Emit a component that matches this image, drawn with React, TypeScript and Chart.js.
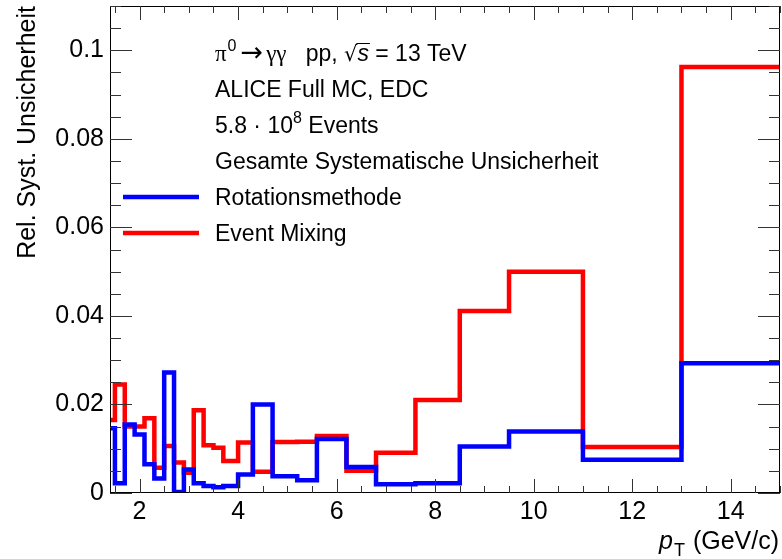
import { useEffect, useRef } from "react";
import { Chart, registerables } from "chart.js";

Chart.register(...registerables);

// pT bin edges (GeV/c)
const BIN_EDGES = [
  1.4, 1.5, 1.7, 1.9, 2.1, 2.3, 2.5, 2.7, 2.9, 3.1, 3.3, 3.5, 3.7, 4.0, 4.3, 4.7,
  5.2, 5.6, 6.2, 6.8, 7.6, 8.5, 9.5, 11, 13, 15,
];

// Rel. syst. uncertainty per bin
const ROTATION = [
  0.0146, 0.0022, 0.0155, 0.0132, 0.0065, 0.0033, 0.0272, 0.0002, 0.0053, 0.0022,
  0.0016, 0.0013, 0.0016, 0.0042, 0.02, 0.0038, 0.0029, 0.0122, 0.0059, 0.002,
  0.0022, 0.0105, 0.0139, 0.0075, 0.0293,
];
const EVENT_MIXING = [
  0.0165, 0.0245, 0.015, 0.015, 0.0169, 0.0057, 0.0106, 0.0069, 0.0046, 0.0187,
  0.0108, 0.0102, 0.0072, 0.0114, 0.0048, 0.0115, 0.0116, 0.0129, 0.005, 0.0091,
  0.021, 0.0411, 0.05, 0.0104, 0.0962,
];

const X_TICKS = [2, 4, 6, 8, 10, 12, 14];
const X_TICK_LABELS = ["2", "4", "6", "8", "10", "12", "14"];
const Y_TICKS = [0, 0.02, 0.04, 0.06, 0.08, 0.1];
const Y_TICK_LABELS = ["0", "0.02", "0.04", "0.06", "0.08", "0.1"];

const X_MIN = 1.4;
const X_MAX = 15;
const Y_MIN = 0;
const Y_MAX = 0.11;
const X_MINOR_STEP = 0.5;
const Y_MINOR_STEP = 0.005;

const SANS = "'Liberation Sans', Arial, Helvetica, sans-serif";
const SERIF = "'Liberation Serif', 'Times New Roman', serif";
const DEJAVU = "'DejaVu Sans', sans-serif";

function toSteps(values: number[]) {
  const pts = values.map((v, i) => ({ x: BIN_EDGES[i], y: v }));
  pts.push({ x: BIN_EDGES[BIN_EDGES.length - 1], y: values[values.length - 1] });
  return pts;
}

type Piece = { t: string; font: string; dy?: number; overline?: boolean; gap?: number };

function drawPieces(ctx: CanvasRenderingContext2D, x: number, y: number, pieces: Piece[]) {
  let cx = x;
  for (const p of pieces) {
    ctx.font = p.font;
    ctx.fillText(p.t, cx, y + (p.dy || 0));
    const w = ctx.measureText(p.t).width;
    if (p.overline) {
      ctx.save();
      ctx.lineWidth = 1;
      ctx.beginPath();
      ctx.moveTo(cx - 1, y - 17.5);
      ctx.lineTo(cx + w + 1, y - 17.5);
      ctx.stroke();
      ctx.restore();
    }
    cx += w + (p.gap || 0);
  }
}

const rootStyle = {
  id: "rootStyle",
  afterDatasetsDraw(chart: any) {
    const { ctx, chartArea: a } = chart;
    const xs = chart.scales.x;
    const ys = chart.scales.y;
    ctx.save();
    // frame
    ctx.strokeStyle = "#000";
    ctx.lineWidth = 1;
    ctx.strokeRect(a.left + 0.5, a.top + 0.5, a.right - a.left - 1, a.bottom - a.top - 1);

    // y ticks (inside, both sides)
    ctx.strokeStyle = "#333";
    const ny = Math.round((Y_MAX - Y_MIN) / Y_MINOR_STEP);
    for (let k = 0; k <= ny; k++) {
      const v = Y_MIN + k * Y_MINOR_STEP;
      const py = Math.round(ys.getPixelForValue(v)) + 0.5;
      const major = k % 4 === 0;
      const len = major ? 22 : 11;
      ctx.beginPath();
      ctx.moveTo(a.left, py);
      ctx.lineTo(a.left + len, py);
      ctx.moveTo(a.right, py);
      ctx.lineTo(a.right - len, py);
      ctx.stroke();
    }
    // x ticks (inside, bottom and top)
    const nx = Math.round((X_MAX - 1.5) / X_MINOR_STEP);
    for (let k = 0; k <= nx; k++) {
      const v = 1.5 + k * X_MINOR_STEP;
      const px = Math.round(xs.getPixelForValue(v)) + 0.5;
      const major = Math.abs(v / 2 - Math.round(v / 2)) < 1e-6;
      const len = major ? 14 : 7;
      ctx.beginPath();
      ctx.moveTo(px, a.bottom);
      ctx.lineTo(px, a.bottom - len);
      ctx.moveTo(px, a.top);
      ctx.lineTo(px, a.top + len);
      ctx.stroke();
    }
    ctx.restore();
  },
  afterDraw(chart: any) {
    const { ctx } = chart;
    ctx.save();
    ctx.fillStyle = "#000";
    ctx.strokeStyle = "#000";
    ctx.textBaseline = "alphabetic";
    ctx.textAlign = "left";
    const F = 23;
    const tx = 215;
    const rows = [61, 97, 133, 169, 205, 241];
    // line 1
    drawPieces(ctx, tx, rows[0], [
      { t: "π", font: `${F}px ${SERIF}`, gap: 1 },
      { t: "0", font: `${Math.round(F * 0.7)}px ${SANS}`, dy: -10, gap: 4 },
      { t: "→", font: `${F + 4}px ${DEJAVU}`, gap: 3 },
      { t: "γγ", font: `${F}px ${SERIF}` },
      { t: "   pp, ", font: `${F}px ${SANS}` },
      { t: "√", font: `${F - 2}px ${DEJAVU}` },
      { t: "s", font: `italic ${F}px ${SANS}`, overline: true },
      { t: " = 13 TeV", font: `${F}px ${SANS}` },
    ]);
    ctx.font = `${F}px ${SANS}`;
    ctx.fillText("ALICE Full MC, EDC", tx, rows[1]);
    drawPieces(ctx, tx, rows[2], [
      { t: "5.8 · 10", font: `${F}px ${SANS}` },
      { t: "8", font: `${Math.round(F * 0.7)}px ${SANS}`, dy: -10 },
      { t: " Events", font: `${F}px ${SANS}` },
    ]);
    ctx.font = `${F}px ${SANS}`;
    ctx.fillText("Gesamte Systematische Unsicherheit", tx, rows[3]);
    ctx.fillText("Rotationsmethode", tx, rows[4]);
    ctx.fillText("Event Mixing", tx, rows[5]);

    // legend lines
    ctx.lineWidth = 4.5;
    ctx.strokeStyle = "#0000ff";
    ctx.beginPath();
    ctx.moveTo(123, 197);
    ctx.lineTo(199, 197);
    ctx.stroke();
    ctx.strokeStyle = "#ff0000";
    ctx.beginPath();
    ctx.moveTo(123, 233);
    ctx.lineTo(199, 233);
    ctx.stroke();

    // x-axis title (right aligned)
    ctx.fillStyle = "#000";
    const tF = 25;
    ctx.font = `${tF}px ${SANS}`;
    const rest = " (GeV/c)";
    const wRest = ctx.measureText(rest).width;
    ctx.font = `${Math.round(tF * 0.7)}px ${SANS}`;
    const wT = ctx.measureText("T").width;
    ctx.font = `italic ${tF}px ${SANS}`;
    const wp = ctx.measureText("p").width;
    const right = 779;
    const base = 549;
    let sx = right - wRest - wT - wp - 2;
    ctx.fillText("p", sx, base);
    sx += wp + 1;
    ctx.font = `${Math.round(tF * 0.7)}px ${SANS}`;
    ctx.fillText("T", sx, base + 7);
    sx += wT + 1;
    ctx.font = `${tF}px ${SANS}`;
    ctx.fillText(rest, sx, base);

    // y-axis title (rotated, aligned to top)
    ctx.save();
    ctx.translate(35, 6);
    ctx.rotate(-Math.PI / 2);
    ctx.textAlign = "right";
    ctx.font = `${tF}px ${SANS}`;
    ctx.fillText("Rel. Syst. Unsicherheit", 0, 0);
    ctx.restore();

    ctx.restore();
  },
};

export default function App() {
  const ref = useRef<HTMLCanvasElement>(null);
  useEffect(() => {
    if (!ref.current) return;
    const chart = new Chart(ref.current, {
      type: "line",
      data: {
        datasets: [
          {
            label: "Rotationsmethode",
            data: toSteps(ROTATION),
            borderColor: "#0000ff",
            backgroundColor: "#0000ff",
            borderWidth: 4.5,
            stepped: true,
            pointRadius: 0,
            fill: false,
            clip: 0,
            borderJoinStyle: "miter",
            borderCapStyle: "butt",
          },
          {
            label: "Event Mixing",
            data: toSteps(EVENT_MIXING),
            borderColor: "#ff0000",
            backgroundColor: "#ff0000",
            borderWidth: 4.5,
            stepped: true,
            pointRadius: 0,
            fill: false,
            clip: 0,
            borderJoinStyle: "miter",
            borderCapStyle: "butt",
          },
        ],
      },
      options: {
        responsive: false,
        animation: false,
        devicePixelRatio: 1,
        layout: { padding: { top: 6, right: 2, left: 0, bottom: 0 } },
        plugins: { legend: { display: false }, tooltip: { enabled: false } },
        scales: {
          x: {
            type: "linear",
            min: X_MIN,
            max: X_MAX,
            afterBuildTicks: (s: any) => {
              s.ticks = X_TICKS.map((v) => ({ value: v }));
            },
            afterFit: (s: any) => {
              s.height = 66;
              s.paddingLeft = 0;
              s.paddingRight = 0;
              s.paddingTop = 0;
              s.paddingBottom = 0;
            },
            grid: { display: false, drawTicks: false },
            border: { display: false },
            ticks: {
              padding: 4,
              color: "#000",
              font: { family: SANS, size: 25 },
              maxRotation: 0,
              autoSkip: false,
              callback: (_v: any, i: number) => X_TICK_LABELS[i],
            },
          },
          y: {
            type: "linear",
            min: Y_MIN,
            max: Y_MAX,
            afterBuildTicks: (s: any) => {
              s.ticks = Y_TICKS.map((v) => ({ value: v }));
            },
            afterFit: (s: any) => {
              s.width = 110;
              s.paddingLeft = 0;
              s.paddingRight = 0;
              s.paddingTop = 0;
              s.paddingBottom = 0;
            },
            grid: { display: false, drawTicks: false },
            border: { display: false },
            ticks: {
              padding: 6,
              color: "#000",
              font: { family: SANS, size: 25 },
              autoSkip: false,
              callback: (_v: any, i: number) => Y_TICK_LABELS[i],
            },
          },
        },
      },
      plugins: [rootStyle],
    });
    return () => chart.destroy();
  }, []);
  return (
    <div style={{ position: "absolute", left: 0, top: 0, width: 782, height: 559, background: "#fff" }}>
      <canvas ref={ref} width={782} height={559} style={{ display: "block", width: 782, height: 559 }} />
    </div>
  );
}
